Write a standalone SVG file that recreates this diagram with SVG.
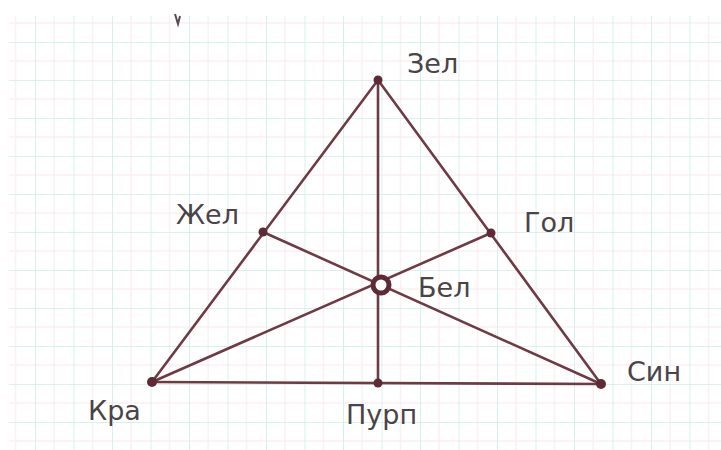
<svg xmlns="http://www.w3.org/2000/svg" width="721" height="450" viewBox="0 0 721 450">
<style>
.edge{stroke:#6e3b45;stroke-width:2.6;fill:none;stroke-linecap:round}
.dot{fill:#5e2a36}
.lbl{font-family:"DejaVu Sans","Liberation Sans",sans-serif;font-size:27px;fill:#4a4448}
.g1{stroke:#cdeee8;stroke-width:1.6}
.g2{stroke:#f8e8ee;stroke-width:1}
</style>
<defs>
<pattern id="grid" x="35" y="42" width="38.5" height="38" patternUnits="userSpaceOnUse">
<line class="g2" x1="19" y1="0" x2="19" y2="38"/>
<line class="g2" x1="0" y1="19" x2="38.5" y2="19"/>
<line class="g1" x1="0" y1="0" x2="0" y2="38"/>
<line class="g1" x1="0" y1="0" x2="38.5" y2="0"/>
</pattern>
</defs>
<rect x="0" y="0" width="721" height="450" fill="#ffffff"/>
<rect x="9" y="16" width="712" height="434" fill="url(#grid)"/>
<path d="M175 14 L178 24 L180 16" stroke="#5a4a55" stroke-width="2" fill="none"/>
<g id="connectors">
<line class="edge" x1="378" y1="80" x2="152" y2="382"/>
<line class="edge" x1="378" y1="80" x2="601" y2="384"/>
<line class="edge" x1="152" y1="382" x2="601" y2="384"/>
<line class="edge" x1="378" y1="80" x2="378" y2="383"/>
<line class="edge" x1="263" y1="232" x2="601" y2="384"/>
<line class="edge" x1="491" y1="233" x2="152" y2="382"/>
</g>
<g id="zel"><circle class="dot" cx="378" cy="80" r="4.5"/><text class="lbl" x="407" y="73">Зел</text></g>
<g id="zhel"><circle class="dot" cx="263" cy="232" r="4.5"/><text class="lbl" x="176" y="224">Жел</text></g>
<g id="gol"><circle class="dot" cx="491" cy="233" r="4.5"/><text class="lbl" x="524" y="232">Гол</text></g>
<g id="bel"><circle cx="381" cy="285" r="8" fill="#fff" stroke="#5e2a36" stroke-width="5"/><text class="lbl" x="418" y="297">Бел</text></g>
<g id="kra"><circle class="dot" cx="152" cy="382" r="5"/><text class="lbl" x="88" y="420">Кра</text></g>
<g id="sin"><circle class="dot" cx="601" cy="384" r="5"/><text class="lbl" x="627" y="381">Син</text></g>
<g id="purp"><circle class="dot" cx="378" cy="383" r="4.5"/><text class="lbl" x="346" y="424">Пурп</text></g>
</svg>
